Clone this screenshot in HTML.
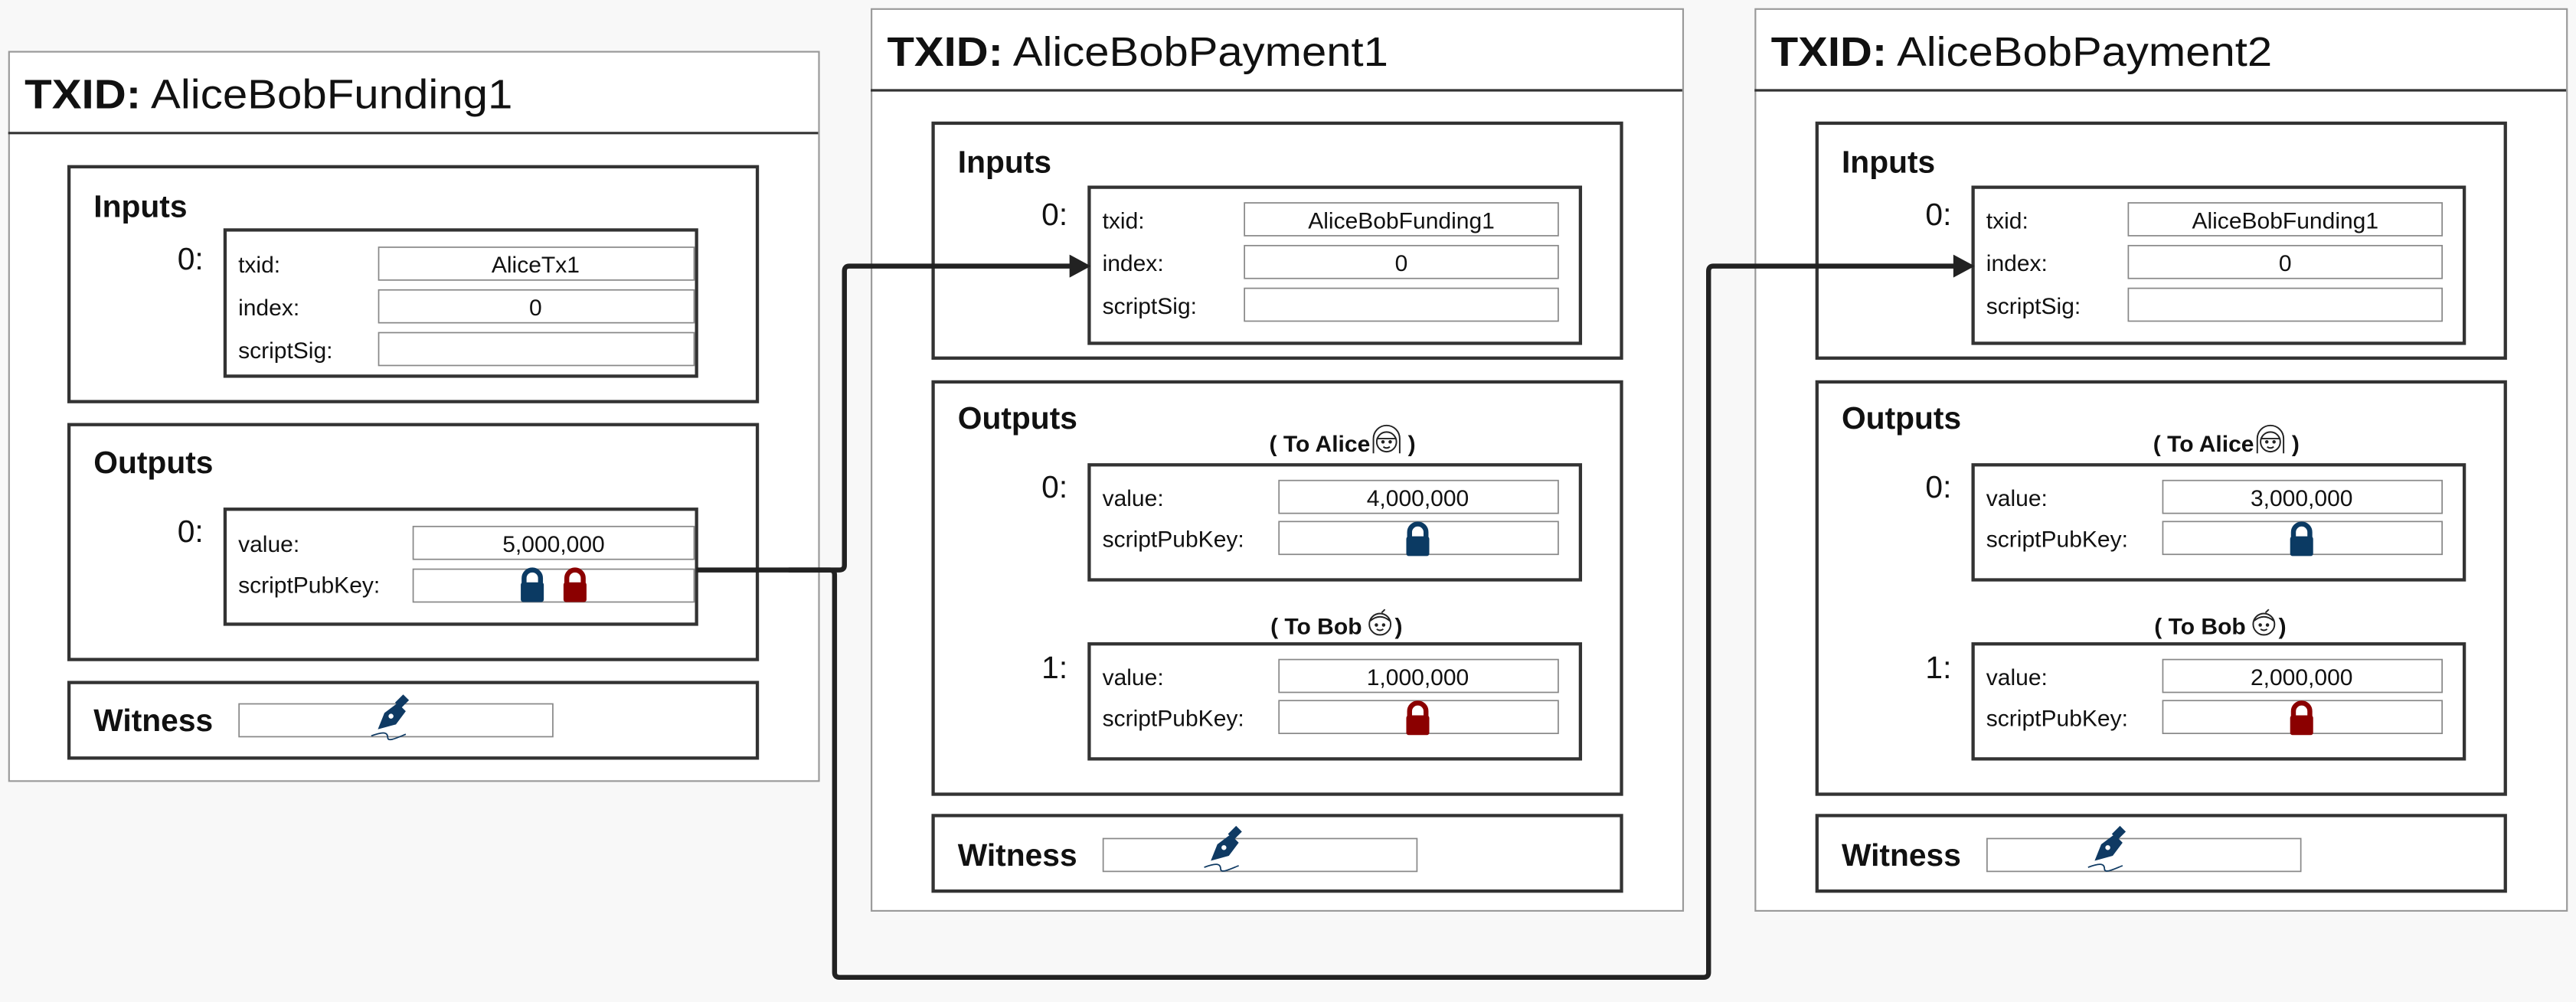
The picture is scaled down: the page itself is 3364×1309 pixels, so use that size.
<!DOCTYPE html>
<html><head><meta charset="utf-8"><style>
html,body{margin:0;padding:0;background:#f8f8f8;}
svg{display:block;}
text{font-family:"Liberation Sans",sans-serif;fill:#111;}
.b{font-weight:bold;}
</style></head><body>
<svg width="3364" height="1309" viewBox="0 0 1568 610" preserveAspectRatio="none" xmlns="http://www.w3.org/2000/svg">
<defs>
<g id="lock"><path d="M-5,0 V-4 A5,5 0 0 1 5,-4 V0" fill="none" stroke-width="3"/><rect x="-6.5" y="-1" width="13" height="11" rx="1"/></g>
<g id="pen" fill="#0f3a63" stroke="none"><path d="M-8,8 L-4,-2 L4,-8 L9,-3 L3,5 Z"/><rect x="4" y="-13" width="5" height="7" transform="rotate(45 6 -9)"/><circle cx="0" cy="0" r="1.5" fill="#fff"/><path d="M-12,12 C-4,9 -2,10 -2,13 C-2,16 4,13 9,11" fill="none" stroke="#0f3a63" stroke-width="0.8"/></g>
<g id="alice" fill="none" stroke="#222" stroke-width="0.9"><path d="M-8,8 V-1 A8,8 0 0 1 8,-1 V8"/><circle cx="0" cy="1" r="6"/><path d="M-6,-1 H6"/><circle cx="-2.2" cy="1" r="0.6" fill="#222"/><circle cx="2.2" cy="1" r="0.6" fill="#222"/><path d="M-2,4 Q0,5.5 2,4"/></g>
<g id="bob" fill="none" stroke="#222" stroke-width="0.9"><circle cx="0" cy="1" r="6.5"/><path d="M-6,-1 Q0,-6 6,-1"/><path d="M1,-6 L3,-8"/><circle cx="-2.2" cy="1.5" r="0.6" fill="#222"/><circle cx="2.2" cy="1.5" r="0.6" fill="#222"/><path d="M-2,4 Q0,5.5 2,4"/></g>
</defs>
<rect width="1568" height="610" fill="#f8f8f8"/>

<!-- TX1 -->
<rect x="5.5" y="31.5" width="493" height="444" fill="#fff" stroke="#999" stroke-width="1"/>
<line x1="5" y1="81" x2="498" y2="81" stroke="#333" stroke-width="1.5"/>
<text x="15" y="66" font-size="25" textLength="297" lengthAdjust="spacingAndGlyphs"><tspan class="b">TXID:</tspan> AliceBobFunding1</text>
<rect x="42" y="101.5" width="419" height="143" fill="none" stroke="#333" stroke-width="2"/>
<text x="57" y="132" font-size="19" class="b">Inputs</text>
<text x="108" y="164" font-size="19">0:</text>
<rect x="137" y="140" width="287" height="89" fill="none" stroke="#333" stroke-width="2"/>
<text x="145" y="166" font-size="14">txid:</text><text x="145" y="192" font-size="14">index:</text><text x="145" y="218" font-size="14">scriptSig:</text>
<g fill="#fff" stroke="#888" stroke-width="0.8"><rect x="230.5" y="150.5" width="192" height="20"/><rect x="230.5" y="176.5" width="192" height="20"/><rect x="230.5" y="202.5" width="192" height="20"/></g>
<text x="326" y="166" font-size="14" text-anchor="middle">AliceTx1</text><text x="326" y="192" font-size="14" text-anchor="middle">0</text>
<rect x="42" y="258.5" width="419" height="143" fill="none" stroke="#333" stroke-width="2"/>
<text x="57" y="288" font-size="19" class="b">Outputs</text>
<text x="108" y="330" font-size="19">0:</text>
<rect x="137" y="310" width="287" height="70" fill="none" stroke="#333" stroke-width="2"/>
<text x="145" y="336" font-size="14">value:</text><text x="145" y="361" font-size="14">scriptPubKey:</text>
<g fill="#fff" stroke="#888" stroke-width="0.8"><rect x="251.5" y="320.5" width="171" height="20"/><rect x="251.5" y="346.5" width="171" height="20"/></g>
<text x="337" y="336" font-size="14" text-anchor="middle">5,000,000</text>
<use href="#lock" x="324" y="356" fill="#0b3a63" stroke="#0b3a63"/>
<use href="#lock" x="350" y="356" fill="#8b0000" stroke="#8b0000"/>
<rect x="42" y="415.5" width="419" height="46" fill="none" stroke="#333" stroke-width="2"/>
<text x="57" y="445" font-size="19" class="b">Witness</text>
<rect x="145.5" y="428.5" width="191" height="20" fill="#fff" stroke="#888" stroke-width="0.8"/>
<use href="#pen" x="238" y="436"/>

<!-- TX2 -->
<g>
<rect x="530.5" y="5.5" width="494" height="549" fill="#fff" stroke="#999" stroke-width="1"/>
<line x1="530" y1="55" x2="1024" y2="55" stroke="#333" stroke-width="1.5"/>
<text x="540" y="40" font-size="25" textLength="305" lengthAdjust="spacingAndGlyphs"><tspan class="b">TXID:</tspan> AliceBobPayment1</text>
<rect x="568" y="75" width="419" height="143" fill="none" stroke="#333" stroke-width="2"/>
<text x="583" y="105" font-size="19" class="b">Inputs</text>
<text x="634" y="137" font-size="19">0:</text>
<rect x="663" y="114" width="299" height="95" fill="none" stroke="#333" stroke-width="2"/>
<text x="671" y="139" font-size="14">txid:</text><text x="671" y="165" font-size="14">index:</text><text x="671" y="191" font-size="14">scriptSig:</text>
<g fill="#fff" stroke="#888" stroke-width="0.8"><rect x="757.5" y="123.5" width="191" height="20"/><rect x="757.5" y="149.5" width="191" height="20"/><rect x="757.5" y="175.5" width="191" height="20"/></g>
<text x="853" y="139" font-size="14" text-anchor="middle">AliceBobFunding1</text><text x="853" y="165" font-size="14" text-anchor="middle">0</text>
<rect x="568" y="232.5" width="419" height="251" fill="none" stroke="#333" stroke-width="2"/>
<text x="583" y="261" font-size="19" class="b">Outputs</text>
<text x="834" y="275" font-size="14" class="b" text-anchor="end">( To Alice</text><use href="#alice" x="844" y="268"/><text x="857" y="275" font-size="14" class="b">)</text>
<text x="634" y="303" font-size="19">0:</text>
<rect x="663" y="283" width="299" height="70" fill="none" stroke="#333" stroke-width="2"/>
<text x="671" y="308" font-size="14">value:</text><text x="671" y="333" font-size="14">scriptPubKey:</text>
<g fill="#fff" stroke="#888" stroke-width="0.8"><rect x="778.5" y="292.5" width="170" height="20"/><rect x="778.5" y="317.5" width="170" height="20"/></g>
<text x="863" y="308" font-size="14" text-anchor="middle">4,000,000</text>
<use href="#lock" x="863" y="328" fill="#0b3a63" stroke="#0b3a63"/>
<text x="829" y="386" font-size="14" class="b" text-anchor="end">( To Bob</text><use href="#bob" x="840" y="379"/><text x="849" y="386" font-size="14" class="b">)</text>
<text x="634" y="413" font-size="19">1:</text>
<rect x="663" y="392" width="299" height="70" fill="none" stroke="#333" stroke-width="2"/>
<text x="671" y="417" font-size="14">value:</text><text x="671" y="442" font-size="14">scriptPubKey:</text>
<g fill="#fff" stroke="#888" stroke-width="0.8"><rect x="778.5" y="401.5" width="170" height="20"/><rect x="778.5" y="426.5" width="170" height="20"/></g>
<text x="863" y="417" font-size="14" text-anchor="middle">1,000,000</text>
<use href="#lock" x="863" y="437" fill="#8b0000" stroke="#8b0000"/>
<rect x="568" y="496.5" width="419" height="46" fill="none" stroke="#333" stroke-width="2"/>
<text x="583" y="527" font-size="19" class="b">Witness</text>
<rect x="671.5" y="510.5" width="191" height="20" fill="#fff" stroke="#888" stroke-width="0.8"/>
<use href="#pen" x="745" y="516"/>
</g>

<!-- TX3 -->
<g transform="translate(538,0)">
<rect x="530.5" y="5.5" width="494" height="549" fill="#fff" stroke="#999" stroke-width="1"/>
<line x1="530" y1="55" x2="1024" y2="55" stroke="#333" stroke-width="1.5"/>
<text x="540" y="40" font-size="25" textLength="305" lengthAdjust="spacingAndGlyphs"><tspan class="b">TXID:</tspan> AliceBobPayment2</text>
<rect x="568" y="75" width="419" height="143" fill="none" stroke="#333" stroke-width="2"/>
<text x="583" y="105" font-size="19" class="b">Inputs</text>
<text x="634" y="137" font-size="19">0:</text>
<rect x="663" y="114" width="299" height="95" fill="none" stroke="#333" stroke-width="2"/>
<text x="671" y="139" font-size="14">txid:</text><text x="671" y="165" font-size="14">index:</text><text x="671" y="191" font-size="14">scriptSig:</text>
<g fill="#fff" stroke="#888" stroke-width="0.8"><rect x="757.5" y="123.5" width="191" height="20"/><rect x="757.5" y="149.5" width="191" height="20"/><rect x="757.5" y="175.5" width="191" height="20"/></g>
<text x="853" y="139" font-size="14" text-anchor="middle">AliceBobFunding1</text><text x="853" y="165" font-size="14" text-anchor="middle">0</text>
<rect x="568" y="232.5" width="419" height="251" fill="none" stroke="#333" stroke-width="2"/>
<text x="583" y="261" font-size="19" class="b">Outputs</text>
<text x="834" y="275" font-size="14" class="b" text-anchor="end">( To Alice</text><use href="#alice" x="844" y="268"/><text x="857" y="275" font-size="14" class="b">)</text>
<text x="634" y="303" font-size="19">0:</text>
<rect x="663" y="283" width="299" height="70" fill="none" stroke="#333" stroke-width="2"/>
<text x="671" y="308" font-size="14">value:</text><text x="671" y="333" font-size="14">scriptPubKey:</text>
<g fill="#fff" stroke="#888" stroke-width="0.8"><rect x="778.5" y="292.5" width="170" height="20"/><rect x="778.5" y="317.5" width="170" height="20"/></g>
<text x="863" y="308" font-size="14" text-anchor="middle">3,000,000</text>
<use href="#lock" x="863" y="328" fill="#0b3a63" stroke="#0b3a63"/>
<text x="829" y="386" font-size="14" class="b" text-anchor="end">( To Bob</text><use href="#bob" x="840" y="379"/><text x="849" y="386" font-size="14" class="b">)</text>
<text x="634" y="413" font-size="19">1:</text>
<rect x="663" y="392" width="299" height="70" fill="none" stroke="#333" stroke-width="2"/>
<text x="671" y="417" font-size="14">value:</text><text x="671" y="442" font-size="14">scriptPubKey:</text>
<g fill="#fff" stroke="#888" stroke-width="0.8"><rect x="778.5" y="401.5" width="170" height="20"/><rect x="778.5" y="426.5" width="170" height="20"/></g>
<text x="863" y="417" font-size="14" text-anchor="middle">2,000,000</text>
<use href="#lock" x="863" y="437" fill="#8b0000" stroke="#8b0000"/>
<rect x="568" y="496.5" width="419" height="46" fill="none" stroke="#333" stroke-width="2"/>
<text x="583" y="527" font-size="19" class="b">Witness</text>
<rect x="671.5" y="510.5" width="191" height="20" fill="#fff" stroke="#888" stroke-width="0.8"/>
<use href="#pen" x="745" y="516"/>
</g>

<!-- connectors -->
<g fill="none" stroke="#222" stroke-width="3" stroke-linejoin="round">
<path d="M424,347 H511 Q514,347 514,344 V165 Q514,162 517,162 H652"/>
<path d="M480,347 H505 Q508,347 508,350 V592 Q508,595 511,595 H1037 Q1040,595 1040,592 V165 Q1040,162 1043,162 H1190"/>
</g>
<path d="M651,155 L664,162 L651,169 Z" fill="#222"/>
<path d="M1189,155 L1202,162 L1189,169 Z" fill="#222"/>
</svg>
</body></html>
